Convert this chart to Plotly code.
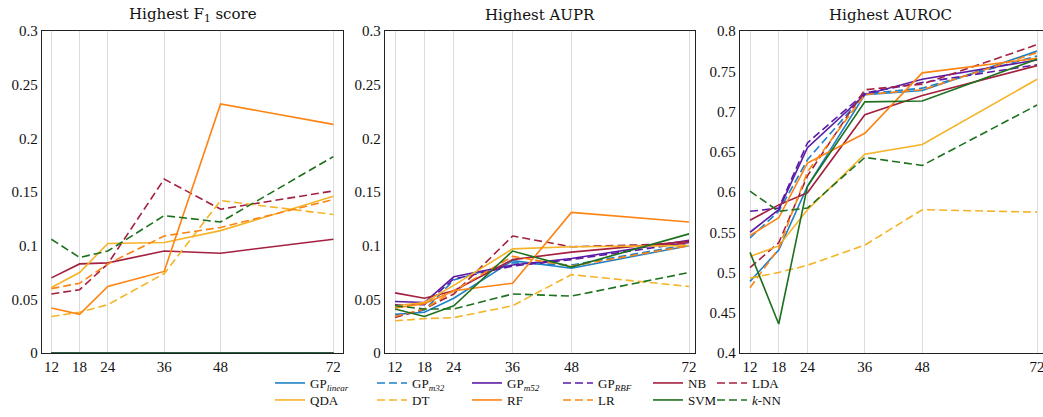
import plotly.graph_objects as go

# ---------------- data ----------------
window_hours = [12, 18, 24, 36, 48, 72]

model_keys = ["GP_linear", "GP_m32", "GP_m52", "GP_RBF", "NB", "LDA",
              "QDA", "DT", "RF", "LR", "SVM", "kNN"]
model_labels = ["GP<sub><i>linear</i></sub>", "GP<sub><i>m32</i></sub>",
                "GP<sub><i>m52</i></sub>", "GP<sub><i>RBF</i></sub>",
                "NB", "LDA", "QDA", "DT", "RF", "LR", "SVM", "<i>k</i>-NN"]

f1_scores = {
    "GP_linear": [0, 0, 0, 0, 0, 0],
    "GP_m32":    [0, 0, 0, 0, 0, 0],
    "GP_m52":    [0, 0, 0, 0, 0, 0],
    "GP_RBF":    [0, 0, 0, 0, 0, 0],
    "NB":        [0.070, 0.083, 0.084, 0.095, 0.093, 0.106],
    "LDA":       [0.055, 0.059, 0.083, 0.162, 0.134, 0.151],
    "QDA":       [0.061, 0.075, 0.102, 0.103, 0.114, 0.146],
    "DT":        [0.034, 0.038, 0.045, 0.074, 0.142, 0.129],
    "RF":        [0.042, 0.036, 0.062, 0.076, 0.232, 0.213],
    "LR":        [0.060, 0.065, 0.083, 0.109, 0.117, 0.143],
    "SVM":       [0, 0, 0, 0, 0, 0],
    "kNN":       [0.106, 0.089, 0.095, 0.128, 0.122, 0.183],
}

aupr_scores = {
    "GP_linear": [0.036, 0.038, 0.051, 0.086, 0.079, 0.100],
    "GP_m32":    [0.034, 0.040, 0.068, 0.084, 0.082, 0.101],
    "GP_m52":    [0.048, 0.047, 0.071, 0.082, 0.088, 0.105],
    "GP_RBF":    [0.045, 0.045, 0.069, 0.081, 0.087, 0.103],
    "NB":        [0.056, 0.051, 0.058, 0.087, 0.094, 0.104],
    "LDA":       [0.033, 0.041, 0.055, 0.109, 0.099, 0.102],
    "QDA":       [0.044, 0.047, 0.063, 0.097, 0.099, 0.100],
    "DT":        [0.030, 0.032, 0.033, 0.044, 0.073, 0.062],
    "RF":        [0.042, 0.046, 0.058, 0.065, 0.131, 0.122],
    "LR":        [0.034, 0.041, 0.058, 0.090, 0.081, 0.100],
    "SVM":       [0.041, 0.034, 0.044, 0.095, 0.080, 0.111],
    "kNN":       [0.044, 0.041, 0.041, 0.055, 0.053, 0.075],
}

auroc_scores = {
    "GP_linear": [0.489, 0.528, 0.607, 0.721, 0.726, 0.775],
    "GP_m32":    [0.543, 0.576, 0.640, 0.722, 0.729, 0.769],
    "GP_m52":    [0.550, 0.578, 0.655, 0.721, 0.740, 0.764],
    "GP_RBF":    [0.576, 0.580, 0.661, 0.723, 0.736, 0.758],
    "NB":        [0.565, 0.584, 0.599, 0.696, 0.720, 0.757],
    "LDA":       [0.506, 0.537, 0.620, 0.727, 0.734, 0.783],
    "QDA":       [0.520, 0.533, 0.578, 0.647, 0.659, 0.740],
    "DT":        [0.493, 0.500, 0.509, 0.534, 0.578, 0.575],
    "RF":        [0.546, 0.568, 0.636, 0.673, 0.748, 0.766],
    "LR":        [0.481, 0.530, 0.625, 0.721, 0.727, 0.773],
    "SVM":       [0.525, 0.436, 0.607, 0.712, 0.713, 0.765],
    "kNN":       [0.601, 0.576, 0.580, 0.643, 0.633, 0.708],
}

panel_titles = ["Highest F<sub>1</sub> score", "Highest AUPR", "Highest AUROC"]
low_ticks = [0, 0.05, 0.1, 0.15, 0.2, 0.25, 0.3]
low_tick_text = ["0", "0.05", "0.1", "0.15", "0.2", "0.25", "0.3"]
high_ticks = [0.4, 0.45, 0.5, 0.55, 0.6, 0.65, 0.7, 0.75, 0.8]
high_tick_text = ["0.4", "0.45", "0.5", "0.55", "0.6", "0.65", "0.7", "0.75", "0.8"]

# ---------------- styles ----------------
BLUE, PURPLE, CRIMSON = "#1f80c6", "#5a1aa6", "#a3203f"
GOLD, ORANGE, GREEN = "#f5b327", "#fd8312", "#1d701d"
colors = [BLUE, BLUE, PURPLE, PURPLE, CRIMSON, CRIMSON,
          GOLD, GOLD, ORANGE, ORANGE, GREEN, GREEN]
dashes = ["solid", "8px,4px"] * 6
FONT = "Liberation Serif"
TITLE_FONT = "DejaVu Serif"

W, H = 1043, 417
ML, MR, MT, MB = 42, 0, 31, 64
PW = W - ML - MR
PH = H - MT - MB

def px_x(p):
    return (p - ML) / PW

def px_y(p):
    return (H - MB - p) / PH

domains = [[px_x(42), px_x(343)], [px_x(385), px_x(695)], [px_x(740), 1.0]]
xranges = [[10, 74.05], [9.96, 73.22], [9.9, 73.25]]
yranges = [[0, 0.3], [0, 0.3], [0.4, 0.8]]
datasets = [f1_scores, aupr_scores, auroc_scores]

# legend column text starts (px) and row centres (px)
legend_text_x = [310, 412, 507, 598, 688, 752]
legend_rows = [383, 400]

fig = go.Figure()

for p, data in enumerate(datasets):
    ax = "" if p == 0 else str(p + 1)
    for i, key in enumerate(model_keys):
        col = i % 6
        row = i // 6
        leg_id = col + 6 * row + 1
        fig.add_trace(go.Scatter(
            x=window_hours, y=data[key], mode="lines",
            name=model_labels[i],
            line=dict(color=colors[i], width=1.6, dash=dashes[i]),
            xaxis="x" + ax, yaxis="y" + ax,
            legend="legend" if leg_id == 1 else "legend%d" % leg_id,
            showlegend=(p == 0),
            legendgroup=key,
            hoverinfo="skip",
        ))

layout = dict(
    width=W, height=H,
    margin=dict(l=ML, r=MR, t=MT, b=MB, autoexpand=False),
    paper_bgcolor="white", plot_bgcolor="white",
    font=dict(family=FONT, size=15, color="#111"),
    annotations=[],
)

for p in range(3):
    ax = "" if p == 0 else str(p + 1)
    low = p < 2
    layout["xaxis" + ax] = dict(
        domain=domains[p], range=xranges[p], anchor="y" + ax,
        tickvals=window_hours, ticktext=[str(v) for v in window_hours],
        showgrid=True, gridcolor="#dcdcdc", gridwidth=1,
        showline=True, linecolor="#222", linewidth=1.3, mirror=True,
        ticks="", zeroline=False, tickfont=dict(family=FONT, size=15),
        automargin=False, ticklabeloverflow="allow",
    )
    layout["yaxis" + ax] = dict(
        domain=[0, 1], range=yranges[p], anchor="x" + ax,
        tickvals=low_ticks if low else high_ticks,
        ticktext=low_tick_text if low else high_tick_text,
        showgrid=False, showline=True, linecolor="#222", linewidth=1.3,
        mirror=(p < 2), ticks="", zeroline=False,
        tickfont=dict(family=FONT, size=15), automargin=False,
    )
    layout["annotations"].append(dict(
        text=panel_titles[p], xref="paper", yref="paper",
        x=(domains[p][0] + domains[p][1]) / 2 if p < 2 else px_x(890),
        y=px_y(15), xanchor="center", yanchor="middle",
        showarrow=False, font=dict(family=TITLE_FONT, size=15, color="#111"),
    ))

for r in range(2):
    for c in range(6):
        leg_id = c + 6 * r + 1
        name = "legend" if leg_id == 1 else "legend%d" % leg_id
        layout[name] = dict(
            x=px_x(legend_text_x[c] - 40), y=px_y(legend_rows[r]),
            xanchor="left", yanchor="middle",
            orientation="v", bgcolor="rgba(0,0,0,0)", borderwidth=0,
            font=dict(family=FONT, size=13, color="#111"),
            itemwidth=30, tracegroupgap=0,
        )

fig.update_layout(**layout)
fig.write_html("out.html",
               config={"displayModeBar": False},
               post_script="document.body.style.margin='0';document.body.style.padding='0';")
